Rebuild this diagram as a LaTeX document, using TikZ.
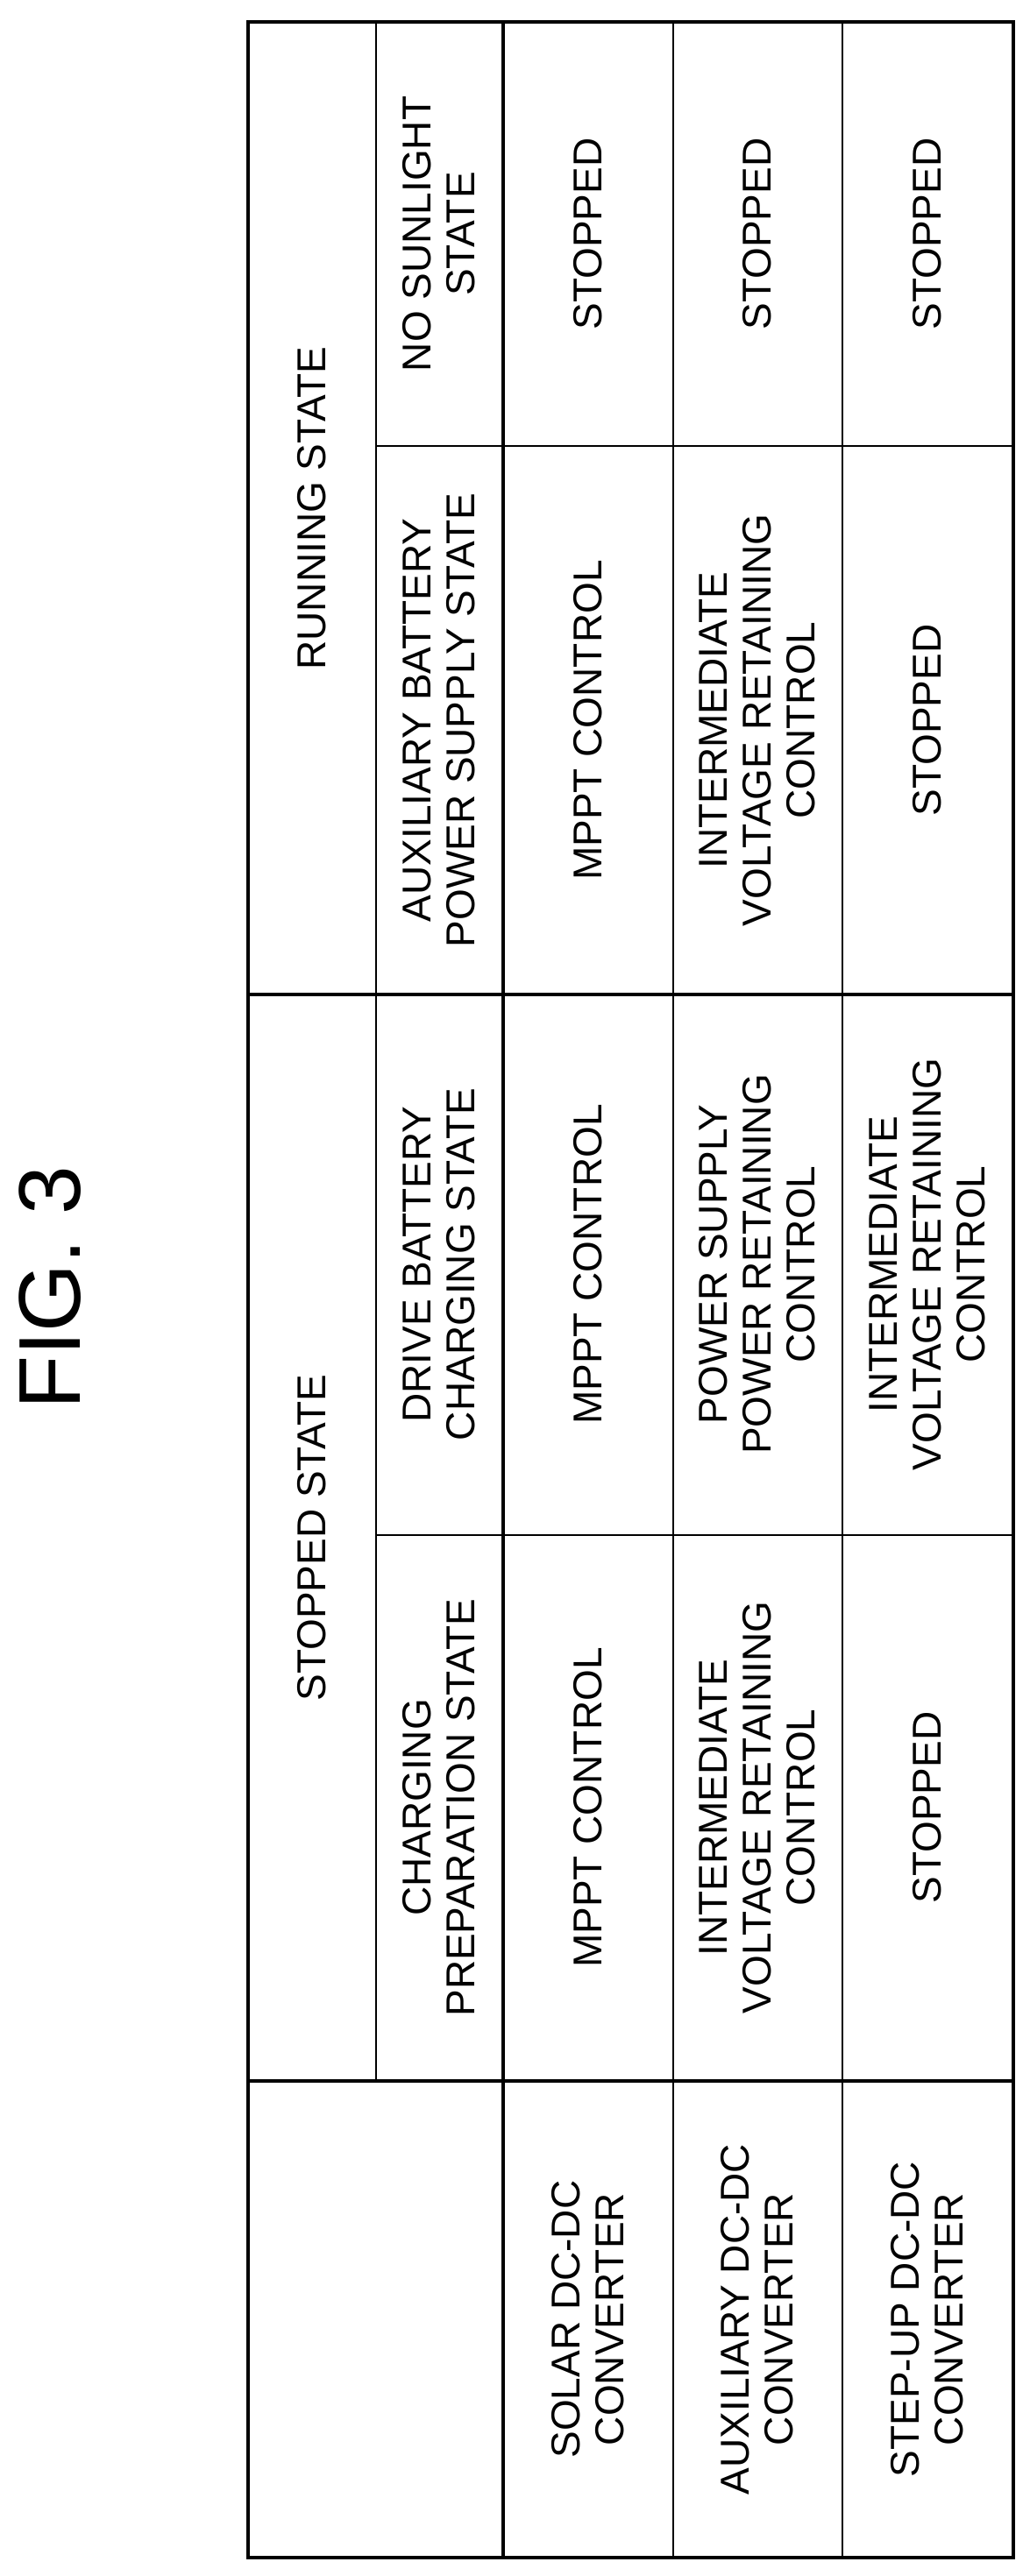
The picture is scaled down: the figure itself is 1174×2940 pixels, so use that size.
\documentclass[tikz,border=0pt]{standalone}
\usepackage{fontspec}
\setmainfont{Liberation Sans}
\usetikzlibrary{positioning}
\tikzset{
  cell/.style={rotate=90,align=center,inner sep=0pt,font=\fontsize{23}{25}\selectfont},
  outer/.style={line width=1.6pt},
  inner/.style={line width=1.1pt}
}
\begin{document}
\begin{tikzpicture}[x=0.5pt,y=-0.5pt]
\useasboundingbox (0,0) rectangle (1174,2940);

\node[rotate=90,font=\fontsize{50}{50}\selectfont] (fig) at (57,1470) {FIG. 3};

% grid
\draw[outer] (283,25) rectangle (1156,2919);
\foreach \y in {1135,2375}
\draw[outer] (283,\y) -- (1156,\y);
\foreach \x in {574}
\draw[outer] (\x,25) -- (\x,2919);
\foreach \x in {768,961}
\draw[inner] (\x,25) -- (\x,2919);
\draw[inner] (429,25) -- (429,2375);
\foreach \y in {509,1752}
\draw[inner] (429,\y) -- (1156,\y);

% headers
\node[cell] (run) at (356,580) {RUNNING STATE};
\node[cell] (stop) at (356,1755) {STOPPED STATE};
\node[cell] (nosun) at (501,267) {NO SUNLIGHT\\STATE};
\node[cell] (auxbat) at (501,822) {AUXILIARY BATTERY\\POWER SUPPLY STATE};
\node[cell] (drive) at (501,1443) {DRIVE BATTERY\\CHARGING STATE};
\node[cell] (prep) at (501,2063) {CHARGING\\PREPARATION STATE};

% rows
\node[cell] (solar) at (671,2647) {SOLAR DC-DC\\CONVERTER};
\node[cell] (aux) at (864,2647) {AUXILIARY DC-DC\\CONVERTER};
\node[cell] (stepup) at (1058,2647) {STEP-UP DC-DC\\CONVERTER};

% solar row
\node[cell] (s1) at (671,267) {STOPPED};
\node[cell] (s2) at (671,822) {MPPT CONTROL};
\node[cell] (s3) at (671,1443) {MPPT CONTROL};
\node[cell] (s4) at (671,2063) {MPPT CONTROL};
% auxiliary row
\node[cell] (a1) at (864,267) {STOPPED};
\node[cell] (a2) at (864,822) {INTERMEDIATE\\VOLTAGE RETAINING\\CONTROL};
\node[cell] (a3) at (864,1443) {POWER SUPPLY\\POWER RETAINING\\CONTROL};
\node[cell] (a4) at (864,2063) {INTERMEDIATE\\VOLTAGE RETAINING\\CONTROL};
% step-up row
\node[cell] (u1) at (1058,267) {STOPPED};
\node[cell] (u2) at (1058,822) {STOPPED};
\node[cell] (u3) at (1058,1443) {INTERMEDIATE\\VOLTAGE RETAINING\\CONTROL};
\node[cell] (u4) at (1058,2063) {STOPPED};
\end{tikzpicture}
\end{document}
